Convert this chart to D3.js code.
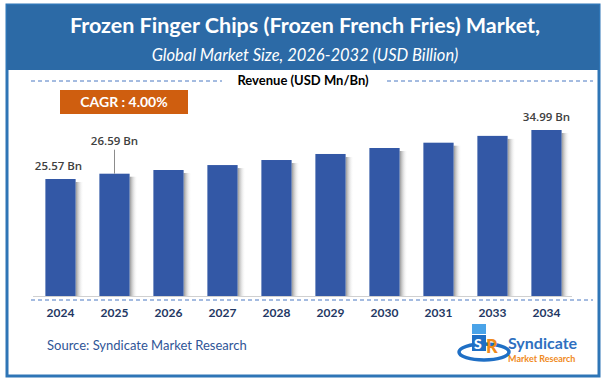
<!DOCTYPE html>
<html>
<head>
<meta charset="utf-8">
<script src="https://cdn.jsdelivr.net/npm/d3@7"></script>
<style>
  body { margin: 0; background: #fff; }
  text { font-family: Lato, "Open Sans", sans-serif; }
</style>
</head>
<body>
<div id="chart"></div>
<script>
const years = ['2024', '2025', '2026', '2027', '2028', '2029', '2030', '2031', '2033', '2034'];
const revenue = [25.57, 26.59, 27.30, 28.25, 29.22, 30.38, 31.53, 32.55, 33.86, 34.99];
const labelled = ['2024', '2025', '2034'];
const cagrText = 'CAGR : 4.00%';

const width = 606;
const height = 382;

const svg = d3.select('#chart').append('svg').attr('width', width).attr('height', height);

// shadow gradient for the bars
const defs = svg.append('defs');
const grad = defs.append('linearGradient').attr('id', 'shade').attr('x1', 0).attr('x2', 1).attr('y1', 0).attr('y2', 0);
grad.append('stop').attr('offset', 0).attr('stop-color', '#6f6f6f').attr('stop-opacity', 0.75);
grad.append('stop').attr('offset', 1).attr('stop-color', '#ffffff').attr('stop-opacity', 0);

// frame + header band
svg.append('rect').attr('x', 7).attr('y', 5).attr('width', 592).attr('height', 371)
  .attr('fill', '#fff').attr('stroke', '#2e75b6').attr('stroke-width', 3);
svg.append('rect').attr('x', 7).attr('y', 5).attr('width', 592).attr('height', 65).attr('fill', '#2c6aa6');

svg.append('text').attr('x', 305).attr('y', 33).attr('text-anchor', 'middle')
  .attr('fill', '#fff').style('font-size', '21.5px').style('font-weight', 700)
  .text('Frozen Finger Chips (Frozen French Fries) Market,');
svg.append('text').attr('x', 305).attr('y', 61).attr('text-anchor', 'middle')
  .attr('fill', '#fff').style('font-size', '16.5px').style('font-style', 'italic')
  .text('Global Market Size, 2026-2032 (USD Billion)');

// revenue caption with dashed rules
svg.append('text').attr('x', 303).attr('y', 85).attr('text-anchor', 'middle')
  .attr('fill', '#000').style('font-size', '13px').style('font-weight', 700)
  .text('Revenue (USD Mn/Bn)');
[[31, 222], [387, 593]].forEach(function (d) {
  svg.append('line').attr('x1', d[0]).attr('x2', d[1]).attr('y1', 81).attr('y2', 81)
    .attr('stroke', '#4a78c2').attr('stroke-dasharray', '4,3');
});

// CAGR box
svg.append('rect').attr('x', 60).attr('y', 90).attr('width', 128).attr('height', 24).attr('fill', '#cf5e0f');
svg.append('text').attr('x', 124).attr('y', 107).attr('text-anchor', 'middle')
  .attr('fill', '#fff').style('font-size', '14px').style('font-weight', 700).text(cagrText);

// scales
const x = d3.scaleBand().domain(years).range([33.5, 573.5]).paddingInner(0.44).paddingOuter(0.22);
const y = d3.scaleLinear().domain([3.08, 34.99]).range([296, 130]);

const data = years.map(function (d, i) { return {year: d, value: revenue[i]}; });

// shadows then bars
svg.append('g').selectAll('rect').data(data).enter().append('rect')
  .attr('x', d => x(d.year) + x.bandwidth()).attr('y', d => y(d.value) + 3)
  .attr('width', 8).attr('height', d => y.range()[0] - y(d.value) - 3)
  .attr('fill', 'url(#shade)');
svg.append('g').selectAll('rect').data(data).enter().append('rect')
  .attr('x', d => x(d.year)).attr('y', d => y(d.value))
  .attr('width', x.bandwidth()).attr('height', d => y.range()[0] - y(d.value))
  .attr('fill', '#3358a6');

// axis line + dashed rule below
svg.append('line').attr('x1', 33).attr('x2', 572).attr('y1', 296.5).attr('y2', 296.5).attr('stroke', '#d0d0d0');
svg.append('line').attr('x1', 31).attr('x2', 593).attr('y1', 300).attr('y2', 300)
  .attr('stroke', '#4a78c2').attr('stroke-dasharray', '4,3');

const xAxis = svg.append('g').attr('transform', 'translate(0,300)')
  .call(d3.axisBottom(x).tickSize(0).tickPadding(8));
xAxis.select('.domain').remove();
xAxis.selectAll('text').attr('fill', '#1f3864').style('font-size', '12px').style('font-weight', 700)
  .style('font-family', 'Lato, sans-serif');

// value labels
const lab = data.filter(d => labelled.indexOf(d.year) >= 0);
svg.append('g').selectAll('text').data(lab).enter().append('text')
  .attr('x', d => x(d.year) + x.bandwidth() / 2 + (d.year === '2024' ? -2 : 0))
  .attr('y', d => d.year === '2025' ? y(d.value) - 29 : y(d.value) - 9)
  .attr('text-anchor', 'middle').attr('fill', '#404040')
  .style('font-family', '"Open Sans", sans-serif').style('font-size', '11.5px').style('font-weight', 600)
  .text(d => d.value.toFixed(2) + ' Bn');
// leader line for 2025
const d25 = data[1];
svg.append('line').attr('x1', x(d25.year) + x.bandwidth() / 2).attr('x2', x(d25.year) + x.bandwidth() / 2)
  .attr('y1', y(d25.value) - 24).attr('y2', y(d25.value)).attr('stroke', '#8c8c8c');

// source
svg.append('text').attr('x', 47).attr('y', 350).attr('fill', '#2f5597').style('font-size', '13px')
  .text('Source: Syndicate Market Research');

// logo
const logo = svg.append('g');
logo.append('ellipse').attr('cx', 484).attr('cy', 352).attr('rx', 25).attr('ry', 8)
  .attr('fill', 'none').attr('stroke', '#1f6fc5').attr('stroke-width', 3.5);
logo.append('rect').attr('x', 472).attr('y', 324).attr('width', 14).attr('height', 10).attr('fill', '#4aa3e8');
logo.append('rect').attr('x', 472).attr('y', 335).attr('width', 14).attr('height', 16).attr('fill', '#1f6fc5');
logo.append('text').attr('x', 474).attr('y', 349).attr('fill', '#fff').style('font-size', '14px').style('font-weight', 900).text('S');
logo.append('text').attr('x', 486).attr('y', 353).attr('fill', '#f08a1c').style('font-size', '18px').style('font-weight', 900).text('R');
logo.append('text').attr('x', 508).attr('y', 349).attr('fill', '#2e6fc0').style('font-size', '16px').style('font-weight', 700).text('Syndicate');
logo.append('text').attr('x', 508).attr('y', 362).attr('fill', '#f08a1c').style('font-size', '9px').style('font-weight', 700).text('Market Research');
</script>
</body>
</html>
